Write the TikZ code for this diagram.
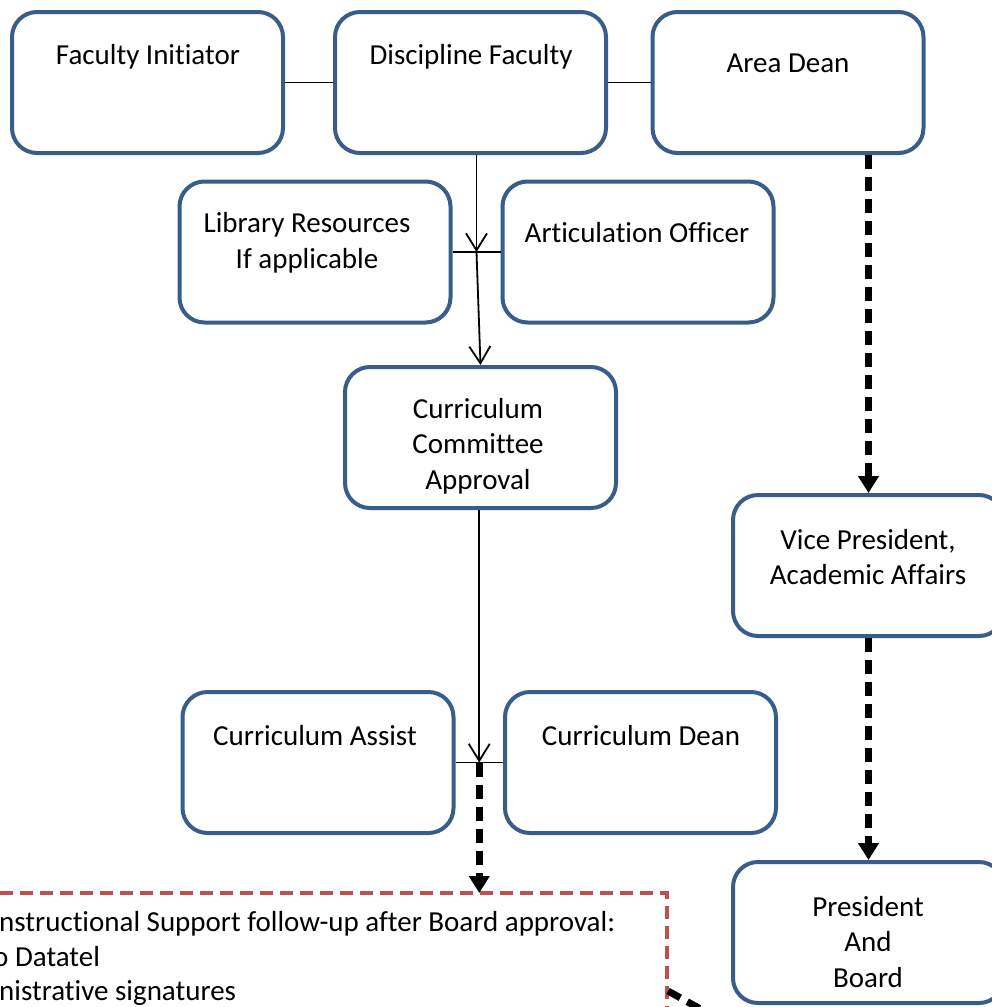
\documentclass[tikz,border=0pt]{standalone}
\usepackage{fontspec}
\setmainfont{Carlito}[Ligatures={NoCommon}]
\usetikzlibrary{arrows.meta,calc}
\definecolor{boxblue}{RGB}{56,93,138}
\definecolor{boxred}{RGB}{192,80,77}
\tikzset{
  card/.style={draw=boxblue, line width=4pt, rounded corners=25pt, fill=white,
    minimum width=271pt, minimum height=141pt, inner sep=0pt},
  lbl/.style={font=\fontsize{29pt}{35.5pt}\selectfont, inner sep=0pt, align=center},
  thin/.style={line width=1.8pt, black},
  openarrow/.style={thin, -{Straight Barb[length=17pt,width=21pt,line width=1.8pt]}},
  dasharrow/.style={line width=7pt, black, dash pattern=on 14pt off 8pt, -{Triangle[length=17pt,width=20pt]}},
  reddash/.style={line width=4.5pt, boxred, dash pattern=on 13pt off 7pt},
}
\begin{document}
\begin{tikzpicture}[x=1pt,y=-1pt]
\useasboundingbox (0,0) rectangle (992,1007);
\clip (0,0) rectangle (992,1007);

% boxes
\node[card] (fi) at (147.5,82.5) {};
\node[card] (df) at (470.5,82.5) {};
\node[card] (ad) at (788,82.5) {};
\node[card] (lr) at (315,252) {};
\node[card] (ao) at (638,252) {};
\node[card] (cca) at (480.5,437.5) {};
\node[card] (vp) at (868.5,565.5) {};
\node[card] (ca) at (318,762.5) {};
\node[card] (cd) at (640.5,762.5) {};
\node[card] (pb) at (868.5,932.5) {};

% texts
\node[lbl, anchor=base] (fi-t) at (148,64) {Faculty Initiator};
\node[lbl, anchor=base] (df-t) at (471,64) {Discipline Faculty};
\node[lbl, anchor=base] (ad-t) at (788,72) {Area Dean};
\node[lbl] (lr-t) at (307,243) {Library Resources\\If applicable};
\node[lbl, anchor=base] (ao-t) at (637,242) {Articulation Officer};
\node[lbl] (cca-t) at (478,446) {Curriculum\\Committee\\Approval};
\node[lbl] (vp-t) at (868,557) {Vice President,\\Academic Affairs};
\node[lbl, anchor=base] (ca-t) at (315,745) {Curriculum Assist};
\node[lbl, anchor=base] (cd-t) at (641,745) {Curriculum Dean};
\node[lbl] (pb-t) at (868,942) {President\\And\\Board};

% red dashed box
\coordinate (rb-l) at (-20,893);
\coordinate (rb-c) at (667,893);
\coordinate (rb-b) at (667,1030);
\draw[reddash] (rb-l) -- (rb-c) -- (rb-b);
\node[lbl, anchor=base west] (ist-1) at (-1,931) {nstructional Support follow-up after Board approval:};
\node[lbl, anchor=base west] (ist-2) at (-7,966) {o Datatel};
\node[lbl, anchor=base west] (ist-3) at (-1,1000) {nistrative signatures};

% connectors
\draw[thin] (fi) -- (df);
\draw[thin] (df) -- (ad);
\draw[thin] (lr) -- (ao);
\draw[thin] (ca) -- (cd);
\coordinate (j1) at ($(lr.east)!0.5!(ao.west)$);
\coordinate (j2) at ($(ca.east)!0.5!(cd.west)$);
\draw[openarrow] (df.south -| j1) -- (j1);
\draw[openarrow] (j1) -- (cca.north);
\draw[openarrow] (cca.south -| j2) -- (j2);
\draw[dasharrow] (j2) -- (j2 |- rb-c);
\draw[dasharrow] (ad.south -| vp) -- (vp.north);
\draw[dasharrow] (vp.south) -- (pb.north);
\coordinate (rb-out) at (668,991);
\coordinate (off) at (760,1042);
\draw[line width=7pt, black, dash pattern=on 14pt off 8pt] (rb-out) -- (off);
\end{tikzpicture}
\end{document}
